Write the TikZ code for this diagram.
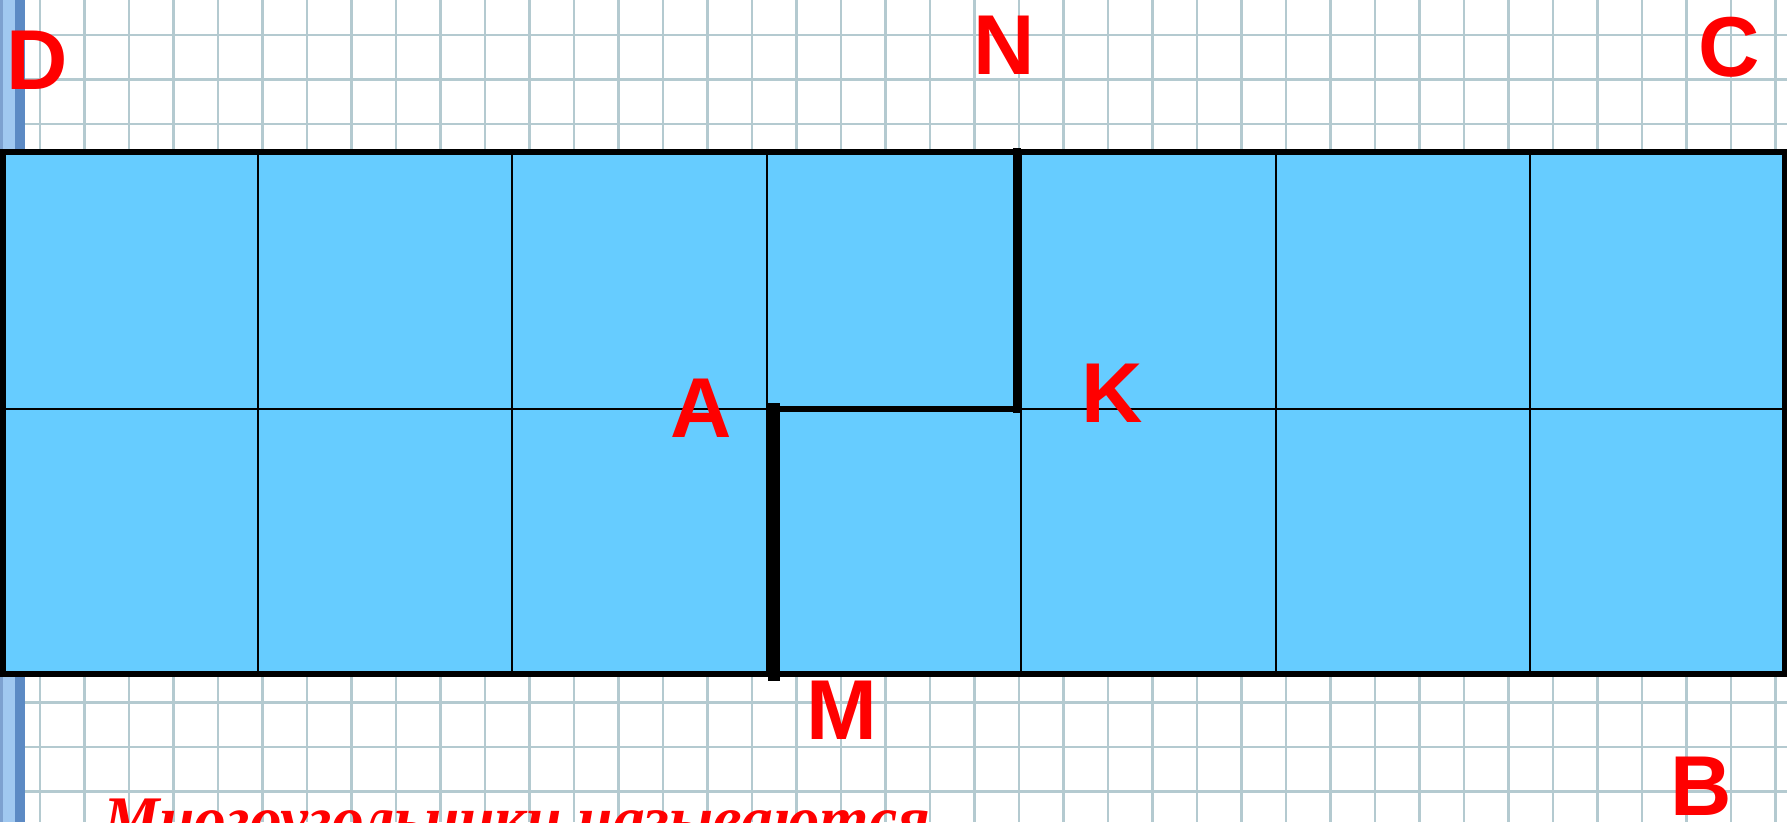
\documentclass[tikz,border=0pt]{standalone}
\usepackage{fontspec}
\setmainfont{Liberation Sans}
\newfontfamily\captionfont{Liberation Serif}
\definecolor{cellblue}{RGB}{102,204,255}
\definecolor{gridgray}{RGB}{180,202,208}
\definecolor{stripedark}{RGB}{92,138,196}
\definecolor{stripelight}{RGB}{160,200,240}
\tikzset{
  lbl/.style={text=red, font=\fontsize{85}{85}\selectfont\bfseries, inner sep=0pt},
  cutline/.style={line cap=rect, black},
}
\begin{document}
\begin{tikzpicture}[x=1pt,y=-1pt]
\useasboundingbox (0,0) rectangle (1787,822);
\fill[white] (0,0) rectangle (1787,822);
% graph paper
\foreach \i in {0,...,39}
  \draw[gridgray, line width=2.2pt] (40+44.5*\i,0) -- (40+44.5*\i,822);
\foreach \j in {0,...,17}
  \draw[gridgray, line width=2.2pt] (0,35+44.5*\j) -- (1787,35+44.5*\j);
\fill[stripedark!80] (0,0) rectangle (3,822);
\fill[stripelight] (3,0) rectangle (15,822);
\fill[stripedark] (15,0) rectangle (25,822);
% strip of squares
\fill[cellblue] (3,152) rectangle (1784.5,674);
\foreach \i in {1,...,6}
  \draw[line width=2pt] (3+254.5*\i,152) -- (3+254.5*\i,674);
\draw[line width=2pt] (3,409) -- (1784.5,409);
\draw[line width=5.5pt] (3,152) rectangle (1784.5,674);
% cut
\coordinate (mfoot) at (774,675);
\coordinate (abend) at (774,409);
\coordinate (kbend) at (1017,409);
\coordinate (ntop) at (1017,152);
\draw[cutline, line width=12pt] (mfoot) -- (abend);
\draw[cutline, line width=6.5pt] (abend) -- (kbend);
\draw[cutline, line width=8pt] (kbend) -- (ntop);
% letters
\node[lbl] (D) at (37,60) {D};
\node[lbl] (N) at (1004,45) {N};
\node[lbl] (C) at (1729,47) {C};
\node[lbl] (A) at (701,408) {A};
\node[lbl] (K) at (1112,393) {K};
\node[lbl] (M) at (842,710) {M};
\node[lbl] (B) at (1701,786) {B};
\node[anchor=base west, text=red, inner sep=0pt,
  font=\captionfont\fontsize{63.5}{63.5}\selectfont\bfseries\itshape] (caption) at (103,840) {Многоугольники называются};
\end{tikzpicture}
\end{document}
